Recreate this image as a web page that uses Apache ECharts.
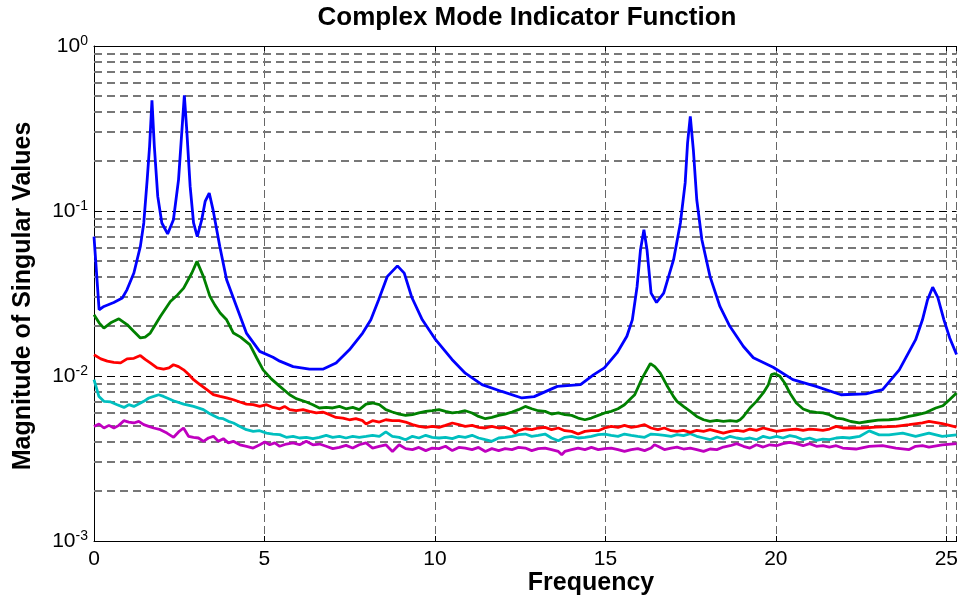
<!DOCTYPE html>
<html lang='en'>

  <head>
    <meta charset='utf-8'>
    <title>Complex Mode Indicator Function</title>
    <style>
      html, body { margin: 0; padding: 0; background: #fff; }
    </style>
  </head>

  <body>

    <div id="main" style="width:961px;height:597px;"></div>

    <script src="https://cdn.jsdelivr.net/npm/echarts@6.0.0/dist/echarts.min.js"></script>
    <script>
      // 读图得到的数据: [频率, 奇异值幅值]
      var blueData = [[0, 0.070], [0.15, 0.0252], [0.29, 0.0264], [0.58, 0.0279], [0.83, 0.0297], [0.97, 0.0334], [1.17, 0.0421], [1.36, 0.061], [1.46, 0.0846], [1.56, 0.155], [1.63, 0.246], [1.70, 0.468], [1.77, 0.246], [1.87, 0.1226], [1.99, 0.0846], [2.16, 0.0726], [2.33, 0.0885], [2.48, 0.155], [2.58, 0.311], [2.65, 0.502], [2.72, 0.311], [2.82, 0.141], [2.92, 0.0846], [3.03, 0.070], [3.16, 0.0885], [3.26, 0.1143], [3.38, 0.1285], [3.49, 0.102], [3.69, 0.061], [3.89, 0.0383], [4.18, 0.0264], [4.47, 0.0182], [4.86, 0.0141], [5.25, 0.0130], [5.45, 0.0123], [5.84, 0.0114], [6.32, 0.0110], [6.71, 0.0110], [7.10, 0.0120], [7.49, 0.0144], [7.88, 0.0182], [8.12, 0.0219], [8.35, 0.029], [8.6, 0.040], [8.9, 0.0465], [9.1, 0.042], [9.32, 0.030], [9.63, 0.0219], [10.02, 0.0166], [10.5, 0.0126], [10.89, 0.0104], [11.38, 0.00886], [11.96, 0.00806], [12.55, 0.00736], [12.91, 0.0075], [13.59, 0.00865], [14.27, 0.00886], [14.66, 0.0102], [14.97, 0.0112], [15.34, 0.0138], [15.63, 0.0174], [15.79, 0.0219], [15.93, 0.0349], [16.03, 0.0583], [16.13, 0.0771], [16.22, 0.0583], [16.34, 0.0318], [16.5, 0.0279], [16.71, 0.0318], [17.0, 0.0507], [17.2, 0.0846], [17.34, 0.148], [17.41, 0.258], [17.49, 0.374], [17.58, 0.235], [17.68, 0.117], [17.83, 0.067], [18.07, 0.040], [18.36, 0.0264], [18.65, 0.020], [19.05, 0.0151], [19.34, 0.0129], [19.92, 0.0113], [20.5, 0.0095], [21.18, 0.00865], [21.91, 0.0077], [22.64, 0.0078], [23.13, 0.00826], [23.62, 0.0109], [24.1, 0.0166], [24.3, 0.0219], [24.45, 0.029], [24.6, 0.0345], [24.75, 0.030], [24.93, 0.0219], [25.1, 0.0170], [25.3, 0.0135]];

      var greenData = [[0, 0.0235], [0.15, 0.0210], [0.29, 0.0195], [0.49, 0.0210], [0.73, 0.0222], [0.97, 0.0205], [1.17, 0.0186], [1.36, 0.0170], [1.5, 0.0172], [1.65, 0.0182], [1.95, 0.0230], [2.24, 0.0283], [2.45, 0.0310], [2.63, 0.0341], [2.87, 0.0421], [3.02, 0.0495], [3.21, 0.040], [3.40, 0.0304], [3.55, 0.0268], [3.70, 0.0241], [3.89, 0.0219], [4.09, 0.0182], [4.3, 0.0172], [4.57, 0.0155], [4.77, 0.0129], [4.96, 0.0109], [5.2, 0.0096], [5.45, 0.00865], [5.74, 0.0077], [5.93, 0.00729], [6.23, 0.00696], [6.42, 0.0067], [6.61, 0.0064], [6.81, 0.00645], [7.00, 0.0064], [7.20, 0.00654], [7.39, 0.00633], [7.59, 0.00645], [7.78, 0.00625], [7.98, 0.00676], [8.17, 0.00686], [8.37, 0.0067], [8.56, 0.00625], [8.75, 0.00605], [8.95, 0.00588], [9.14, 0.00577], [9.34, 0.00583], [9.53, 0.00597], [9.73, 0.0061], [9.92, 0.00616], [10.12, 0.00625], [10.31, 0.0061], [10.51, 0.00597], [10.70, 0.00605], [10.89, 0.00616], [11.09, 0.00597], [11.28, 0.00569], [11.48, 0.00551], [11.67, 0.00561], [11.87, 0.00577], [12.06, 0.00588], [12.26, 0.00605], [12.45, 0.00625], [12.65, 0.00654], [12.84, 0.00633], [13.03, 0.00616], [13.23, 0.0061], [13.42, 0.00588], [13.62, 0.00597], [13.81, 0.00583], [14.01, 0.00577], [14.20, 0.00556], [14.40, 0.00543], [14.59, 0.00556], [14.79, 0.00577], [14.98, 0.00597], [15.17, 0.0061], [15.37, 0.00633], [15.56, 0.0067], [15.76, 0.00736], [15.86, 0.0077], [16.08, 0.0097], [16.32, 0.0119], [16.45, 0.0114], [16.61, 0.0104], [16.8, 0.0088], [17.0, 0.0075], [17.10, 0.00702], [17.29, 0.00654], [17.49, 0.0061], [17.68, 0.00569], [17.88, 0.00543], [18.07, 0.00531], [18.27, 0.00538], [18.46, 0.00531], [18.66, 0.00536], [18.85, 0.00531], [18.95, 0.00543], [19.05, 0.00569], [19.24, 0.0064], [19.43, 0.00702], [19.63, 0.00789], [19.78, 0.00886], [19.87, 0.0102], [19.97, 0.01033], [20.12, 0.00995], [20.26, 0.00907], [20.41, 0.00789], [20.60, 0.00686], [20.80, 0.00631], [20.99, 0.0061], [21.19, 0.00602], [21.38, 0.00597], [21.57, 0.00583], [21.77, 0.00556], [21.96, 0.0055], [22.2, 0.0053], [22.45, 0.0052], [22.7, 0.0053], [23.0, 0.0054], [23.32, 0.00543], [23.6, 0.0055], [23.9, 0.0057], [24.1, 0.0058], [24.4, 0.0060], [24.69, 0.0064], [24.9, 0.0066], [25.1, 0.0072], [25.3, 0.0079]];

      var redData = [[0, 0.01346], [0.2, 0.0127], [0.39, 0.0123], [0.58, 0.0121], [0.78, 0.0120], [0.97, 0.0127], [1.17, 0.0128], [1.36, 0.0133], [1.5, 0.0126], [1.65, 0.0120], [1.85, 0.0112], [2.04, 0.0110], [2.2, 0.0112], [2.33, 0.0117], [2.48, 0.0114], [2.63, 0.0109], [2.78, 0.0102], [2.92, 0.0095], [3.1, 0.0089], [3.31, 0.00826], [3.50, 0.0077], [3.70, 0.00752], [3.89, 0.00736], [4.09, 0.00718], [4.28, 0.00696], [4.47, 0.00676], [4.67, 0.0067], [4.86, 0.00654], [5.06, 0.0067], [5.25, 0.00645], [5.45, 0.00633], [5.59, 0.00654], [5.74, 0.00625], [5.93, 0.00616], [6.13, 0.00625], [6.32, 0.0061], [6.52, 0.00597], [6.71, 0.00605], [6.91, 0.00583], [7.10, 0.00561], [7.30, 0.00556], [7.49, 0.00543], [7.68, 0.00551], [7.88, 0.00536], [7.98, 0.00512], [8.17, 0.00536], [8.37, 0.00526], [8.56, 0.00543], [8.75, 0.00536], [8.95, 0.00536], [9.14, 0.00526], [9.34, 0.00507], [9.53, 0.00495], [9.73, 0.00488], [9.92, 0.00495], [10.12, 0.00488], [10.31, 0.00502], [10.51, 0.00519], [10.70, 0.00507], [10.89, 0.00495], [11.09, 0.00502], [11.28, 0.00488], [11.48, 0.00484], [11.67, 0.00495], [11.87, 0.00484], [12.06, 0.00488], [12.26, 0.00473], [12.35, 0.00451], [12.45, 0.00466], [12.65, 0.00479], [12.84, 0.00473], [13.03, 0.00484], [13.23, 0.00488], [13.42, 0.00473], [13.62, 0.00484], [13.81, 0.00466], [14.01, 0.00462], [14.20, 0.00445], [14.40, 0.00462], [14.59, 0.00466], [14.79, 0.00466], [14.98, 0.00484], [15.17, 0.00495], [15.37, 0.00488], [15.56, 0.00502], [15.76, 0.00488], [15.95, 0.00495], [16.15, 0.00507], [16.34, 0.00484], [16.54, 0.00473], [16.73, 0.00484], [16.93, 0.00466], [17.10, 0.00462], [17.29, 0.00468], [17.49, 0.00455], [17.68, 0.00468], [17.88, 0.00462], [18.07, 0.00473], [18.27, 0.00462], [18.46, 0.00451], [18.66, 0.00462], [18.85, 0.00468], [19.05, 0.00462], [19.24, 0.00477], [19.43, 0.00468], [19.63, 0.00484], [19.82, 0.00473], [20.02, 0.00462], [20.21, 0.00468], [20.41, 0.00473], [20.60, 0.00477], [20.80, 0.00468], [20.99, 0.00477], [21.19, 0.00473], [21.38, 0.00468], [21.57, 0.00477], [21.77, 0.00495], [21.96, 0.00484], [22.16, 0.00484], [22.55, 0.00484], [22.94, 0.0049], [23.52, 0.00495], [23.91, 0.00507], [24.30, 0.0052], [24.49, 0.00531], [24.88, 0.00515], [25.3, 0.0049]];

      var cyanData = [[0, 0.0095], [0.146, 0.0075], [0.29, 0.00702], [0.49, 0.00696], [0.68, 0.0067], [0.88, 0.00645], [1.02, 0.0067], [1.17, 0.00654], [1.31, 0.00676], [1.46, 0.00702], [1.61, 0.00736], [1.75, 0.00752], [1.90, 0.0077], [2.04, 0.00752], [2.33, 0.00708], [2.63, 0.00676], [2.92, 0.00654], [3.21, 0.00625], [3.36, 0.00597], [3.50, 0.00577], [3.65, 0.00556], [3.79, 0.00551], [3.94, 0.00531], [4.09, 0.00519], [4.28, 0.00495], [4.47, 0.00473], [4.67, 0.00462], [4.86, 0.00466], [5.06, 0.00451], [5.25, 0.00445], [5.45, 0.00441], [5.64, 0.00425], [5.84, 0.00431], [6.03, 0.00421], [6.23, 0.00425], [6.42, 0.00417], [6.61, 0.00425], [6.81, 0.00437], [7.00, 0.00425], [7.20, 0.00431], [7.39, 0.00421], [7.59, 0.00431], [7.78, 0.00425], [7.98, 0.00431], [8.17, 0.00437], [8.37, 0.00431], [8.56, 0.00458], [8.75, 0.00431], [8.95, 0.00425], [9.14, 0.00411], [9.34, 0.00431], [9.53, 0.00421], [9.73, 0.00437], [9.92, 0.00425], [10.12, 0.00421], [10.31, 0.00425], [10.51, 0.00417], [10.70, 0.00431], [10.89, 0.00425], [11.09, 0.00437], [11.28, 0.00421], [11.48, 0.00411], [11.67, 0.00402], [11.87, 0.00421], [12.06, 0.00425], [12.26, 0.00431], [12.45, 0.00441], [12.65, 0.00445], [12.84, 0.00431], [13.03, 0.00437], [13.23, 0.00445], [13.42, 0.00421], [13.62, 0.00405], [13.81, 0.00425], [14.01, 0.00431], [14.20, 0.00421], [14.40, 0.00425], [14.59, 0.00431], [14.79, 0.00441], [14.98, 0.00445], [15.17, 0.00437], [15.37, 0.00431], [15.56, 0.00445], [15.76, 0.00437], [15.95, 0.00431], [16.15, 0.00425], [16.34, 0.00445], [16.54, 0.00441], [16.73, 0.00437], [16.93, 0.00431], [17.10, 0.00441], [17.29, 0.00435], [17.49, 0.00447], [17.68, 0.00431], [17.88, 0.00421], [18.07, 0.00411], [18.27, 0.00427], [18.46, 0.00415], [18.66, 0.00431], [18.85, 0.00421], [19.05, 0.00415], [19.24, 0.00421], [19.43, 0.00411], [19.63, 0.00431], [19.82, 0.00421], [20.02, 0.00431], [20.21, 0.00421], [20.41, 0.00435], [20.60, 0.00427], [20.80, 0.00411], [20.99, 0.00421], [21.19, 0.00407], [21.38, 0.00415], [21.57, 0.00411], [21.77, 0.00421], [21.96, 0.00425], [22.16, 0.00421], [22.45, 0.0043], [22.74, 0.00465], [23.03, 0.0044], [23.32, 0.0044], [23.72, 0.0045], [24.1, 0.0043], [24.49, 0.0045], [24.88, 0.0043], [25.3, 0.0044]];

      var magentaData = [[0, 0.00495], [0.146, 0.00512], [0.292, 0.00484], [0.438, 0.00502], [0.584, 0.00484], [0.730, 0.00502], [0.875, 0.00536], [1.021, 0.00526], [1.167, 0.00519], [1.313, 0.00531], [1.459, 0.00507], [1.605, 0.00495], [1.751, 0.00484], [1.946, 0.00473], [2.140, 0.00451], [2.335, 0.00425], [2.481, 0.00458], [2.626, 0.00484], [2.772, 0.00431], [2.918, 0.00425], [3.064, 0.00421], [3.210, 0.00402], [3.356, 0.00421], [3.502, 0.00431], [3.648, 0.00402], [3.794, 0.00417], [3.940, 0.00393], [4.086, 0.00402], [4.280, 0.00383], [4.475, 0.00375], [4.669, 0.00366], [4.864, 0.00383], [5.010, 0.00398], [5.156, 0.00383], [5.302, 0.00393], [5.447, 0.00375], [5.642, 0.00387], [5.837, 0.00393], [6.031, 0.00383], [6.226, 0.00402], [6.420, 0.00383], [6.615, 0.00387], [6.809, 0.00375], [7.004, 0.00363], [7.198, 0.00369], [7.393, 0.00380], [7.588, 0.00366], [7.782, 0.00383], [7.977, 0.00393], [8.171, 0.00366], [8.366, 0.00375], [8.560, 0.00383], [8.755, 0.00349], [8.95, 0.00383], [9.14, 0.00363], [9.34, 0.00358], [9.53, 0.00369], [9.73, 0.00353], [9.92, 0.00366], [10.12, 0.00363], [10.31, 0.00375], [10.51, 0.00353], [10.70, 0.00369], [10.89, 0.00366], [11.09, 0.00358], [11.28, 0.00369], [11.48, 0.00349], [11.67, 0.00363], [11.87, 0.00353], [12.06, 0.00363], [12.26, 0.00358], [12.45, 0.00369], [12.65, 0.00366], [12.84, 0.00353], [13.03, 0.00363], [13.23, 0.00366], [13.42, 0.00358], [13.62, 0.00349], [13.72, 0.00333], [13.81, 0.00349], [14.01, 0.00358], [14.20, 0.00366], [14.40, 0.00358], [14.59, 0.00369], [14.79, 0.00358], [14.98, 0.00363], [15.17, 0.00366], [15.37, 0.00358], [15.56, 0.00349], [15.76, 0.00358], [15.95, 0.00363], [16.15, 0.00353], [16.34, 0.00366], [16.44, 0.00383], [16.54, 0.00375], [16.73, 0.00358], [16.93, 0.00366], [17.10, 0.00371], [17.29, 0.00361], [17.49, 0.00366], [17.68, 0.00358], [17.88, 0.00349], [18.07, 0.00361], [18.27, 0.00358], [18.46, 0.00371], [18.66, 0.00378], [18.85, 0.00389], [19.05, 0.00375], [19.24, 0.00366], [19.43, 0.00383], [19.63, 0.00371], [19.82, 0.00383], [20.02, 0.00378], [20.21, 0.00389], [20.41, 0.00396], [20.60, 0.00389], [20.80, 0.00378], [20.99, 0.00389], [21.19, 0.00375], [21.38, 0.00378], [21.57, 0.00371], [21.77, 0.00378], [21.96, 0.00366], [22.35, 0.00361], [22.74, 0.00375], [23.13, 0.00378], [23.52, 0.00366], [23.91, 0.00358], [24.10, 0.00375], [24.30, 0.00378], [24.49, 0.00371], [24.88, 0.00383], [25.3, 0.00389]];

      // 对数坐标次网格线 (2..9 x 10^n)
      var minorGrid = [0.002, 0.003, 0.004, 0.005, 0.006, 0.007, 0.008, 0.009,
                       0.02, 0.03, 0.04, 0.05, 0.06, 0.07, 0.08, 0.09,
                       0.2, 0.3, 0.4, 0.5, 0.6, 0.7, 0.8, 0.9];

      var FONT = '"Liberation Sans", Arial, sans-serif';

      function lineSeries(name, color, data) {
        return {
          name: name,
          type: 'line',
          data: data,
          showSymbol: false,
          lineStyle: { color: color, width: 2.8 },
          itemStyle: { color: color },
          z: 3,
          animation: false
        };
      }

      var myChart = echarts.init(document.getElementById('main'));

      var option = {
        backgroundColor: '#fff',
        animation: false,
        grid: { left: 94, top: 46, width: 867, height: 495, containLabel: false },
        xAxis: [{
          type: 'value',
          min: 0,
          max: 25.3,
          interval: 5,
          axisLine: { show: true, lineStyle: { color: '#000', width: 1 } },
          axisTick: { show: true, inside: true, length: 5, lineStyle: { color: '#000' } },
          axisLabel: {
            color: '#000', fontSize: 21, fontFamily: FONT, margin: 8,
            formatter: function(v) { return v % 5 === 0 ? String(v) : ''; }
          },
          splitLine: { show: true, lineStyle: { color: '#666', width: 1, type: [8, 4] } }
        }, {
          type: 'value',
          position: 'top',
          min: 0,
          max: 25.3,
          interval: 5,
          axisLine: { show: true, onZero: false, lineStyle: { color: '#000', width: 1 } },
          axisTick: { show: true, inside: true, length: 5, lineStyle: { color: '#000' } },
          axisLabel: { show: false },
          splitLine: { show: false }
        }],
        yAxis: {
          type: 'log',
          logBase: 10,
          min: 0.001,
          max: 1,
          axisLine: { show: true, lineStyle: { color: '#000', width: 1 } },
          axisTick: { show: true, inside: true, length: 5, lineStyle: { color: '#000' } },
          axisLabel: {
            color: '#000', fontFamily: FONT, margin: 6,
            formatter: function(v) {
              var e = Math.round(Math.log(v) / Math.LN10);
              return '{b|10}{e|' + e + '}';
            },
            rich: {
              b: { fontSize: 21, fontFamily: FONT, color: '#000', lineHeight: 24 },
              e: { fontSize: 14, fontFamily: FONT, color: '#000', lineHeight: 10, verticalAlign: 'top' }
            }
          },
          splitLine: { show: true, lineStyle: { color: '#000', width: 1, type: [8, 5] } }
        },
        graphic: [{
          type: 'text',
          x: 527,
          y: 18,
          style: {
            text: 'Complex Mode Indicator Function',
            font: 'bold 26px ' + FONT,
            fill: '#000',
            align: 'center',
            verticalAlign: 'middle'
          }
        }, {
          type: 'text',
          x: 591,
          y: 583,
          style: {
            text: 'Frequency',
            font: 'bold 25px ' + FONT,
            fill: '#000',
            align: 'center',
            verticalAlign: 'middle'
          }
        }, {
          type: 'text',
          x: 23,
          y: 296,
          rotation: Math.PI / 2,
          style: {
            text: 'Magnitude of Singular Values',
            font: 'bold 25px ' + FONT,
            fill: '#000',
            align: 'center',
            verticalAlign: 'middle'
          }
        }],
        series: [{
          // 次网格线
          type: 'custom',
          silent: true,
          animation: false,
          z: 1,
          data: minorGrid.map(function(v) { return [0, v]; }),
          encode: { x: 0, y: 1 },
          renderItem: function(params, api) {
            var cs = params.coordSys;
            var y = Math.round(api.coord([0, api.value(1)])[1]);
            return {
              type: 'line',
              shape: { x1: cs.x, y1: y, x2: cs.x + cs.width, y2: y },
              style: { stroke: '#777', lineWidth: 2, lineDash: [8, 5] }
            };
          }
        },
          lineSeries('s5', '#bf00bf', magentaData),
          lineSeries('s4', '#00bfbf', cyanData),
          lineSeries('s3', '#ff0000', redData),
          lineSeries('s2', '#008000', greenData),
          lineSeries('s1', '#0000ff', blueData)
        ]
      };

      myChart.setOption(option);
    </script>

  </body>

</html>
